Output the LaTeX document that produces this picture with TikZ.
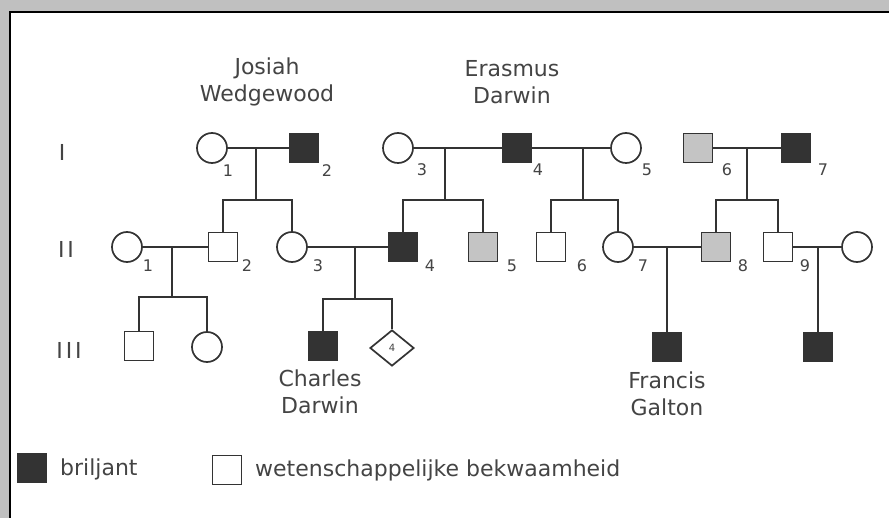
\documentclass[tikz,border=0pt]{standalone}
\usepackage{fontspec}
\setmainfont{DejaVu Sans}
\usetikzlibrary{shapes.geometric}
\definecolor{ink}{HTML}{333333}
\definecolor{txtc}{HTML}{444444}
\definecolor{framec}{HTML}{C0C0C0}
\definecolor{shadec}{HTML}{C4C4C4}
\tikzset{
  person/.style={draw=ink, line width=1.7pt, inner sep=0pt},
  fem/.style={person, circle, minimum size=30pt},
  mal/.style={person, rectangle, minimum size=29pt},
  brill/.style={fill=ink},
  wet/.style={fill=shadec},
  link/.style={draw=ink, line width=2pt},
  numtxt/.style={text=txtc, font=\fontsize{16}{16}\selectfont, inner sep=0pt},
  nametxt/.style={text=txtc, font=\fontsize{22}{27}\selectfont, align=center, inner sep=0pt},
  gentxt/.style={text=txtc, font=\fontsize{22}{22}\selectfont, inner sep=0pt},
}
\begin{document}
\begin{tikzpicture}[x=1pt,y=-1pt]
\useasboundingbox (0,0) rectangle (889,518);
\fill[framec] (0,0) rectangle (889,518);
\fill[white] (10,12) rectangle (889,518);
\draw[black, line width=2.5pt] (10,518) -- (10,12) -- (889,12);

% generation labels
\node[gentxt] (gI) at (62,152) {I};
\node[gentxt] (gII) at (66,249) {I\kern3pt I};
\node[gentxt] (gIII) at (69,350) {I\kern3pt I\kern3pt I};

% names
\node[nametxt] (nJW) at (267,82) {Josiah\\Wedgewood};
\node[nametxt] (nED) at (512,82) {Erasmus\\Darwin};
\node[nametxt] (nCD) at (320,392) {Charles\\Darwin};
\node[nametxt] (nFG) at (667,394) {Francis\\Galton};

% generation I
\node[fem] (I1) at (212,148) {};
\node[mal,brill] (I2) at (304,148) {};
\node[fem] (I3) at (398,148) {};
\node[mal,brill] (I4) at (517,148) {};
\node[fem] (I5) at (626,148) {};
\node[mal,wet] (I6) at (698,148) {};
\node[mal,brill] (I7) at (796,148) {};

% generation II
\node[fem] (II1) at (127,247) {};
\node[mal] (II2) at (223,247) {};
\node[fem] (II3) at (292,247) {};
\node[mal,brill] (II4) at (403,247) {};
\node[mal,wet] (II5) at (483,247) {};
\node[mal] (II6) at (551,247) {};
\node[fem] (II7) at (618,247) {};
\node[mal,wet] (II8) at (716,247) {};
\node[mal] (II9) at (778,247) {};
\node[fem] (II10) at (857,247) {};

% generation III
\node[mal] (III1) at (139,346) {};
\node[fem] (III2) at (207,347) {};
\node[mal,brill] (III3) at (323,346) {};
\node[person, diamond, minimum width=44pt, minimum height=36pt, font=\fontsize{10}{10}\selectfont, text=txtc] (III4) at (392,348) {4};
\node[mal,brill] (III5) at (667,347) {};
\node[mal,brill] (III6) at (818,347) {};

% numbers
\node[numtxt] (l1) at (228,171) {1};
\node[numtxt] (l2) at (327,171) {2};
\node[numtxt] (l3) at (422,170) {3};
\node[numtxt] (l4) at (538,170) {4};
\node[numtxt] (l5) at (647,170) {5};
\node[numtxt] (l6) at (727,170) {6};
\node[numtxt] (l7) at (823,170) {7};
\node[numtxt] (k1) at (148,266) {1};
\node[numtxt] (k2) at (247,266) {2};
\node[numtxt] (k3) at (318,266) {3};
\node[numtxt] (k4) at (430,266) {4};
\node[numtxt] (k5) at (512,266) {5};
\node[numtxt] (k6) at (582,266) {6};
\node[numtxt] (k7) at (643,266) {7};
\node[numtxt] (k8) at (743,266) {8};
\node[numtxt] (k9) at (805,266) {9};

% couple lines
\draw[link] (I1) -- (I2);
\draw[link] (I3) -- (I4);
\draw[link] (I4) -- (I5);
\draw[link] (I6) -- (I7);
\draw[link] (II1) -- (II2);
\draw[link] (II3) -- (II4);
\draw[link] (II7) -- (II8);
\draw[link] (II9) -- (II10);

% descent
\coordinate (m12) at (256,148);  \coordinate (s12) at (256,200);
\coordinate (m34) at (445,148);  \coordinate (s34) at (445,200);
\coordinate (m45) at (583,148);  \coordinate (s45) at (583,200);
\coordinate (m67) at (747,148);  \coordinate (s67) at (747,200);
\coordinate (mA) at (172,247);   \coordinate (sA) at (172,297);
\coordinate (mB) at (355,247);   \coordinate (sB) at (355,299);
\coordinate (mC) at (667,247);
\coordinate (mD) at (818,247);

\draw[link] (m12) -- (s12);
\draw[link] (II2.north) |- (s12) -| (II3.north);
\draw[link] (m34) -- (s34);
\draw[link] (II4.north) |- (s34) -| (II5.north);
\draw[link] (m45) -- (s45);
\draw[link] (II6.north) |- (s45) -| (II7.north);
\draw[link] (m67) -- (s67);
\draw[link] (II8.north) |- (s67) -| (II9.north);
\draw[link] (mA) -- (sA);
\draw[link] (III1.north) |- (sA) -| (III2.north);
\draw[link] (mB) -- (sB);
\draw[link] (III3.north) |- (sB) -| (III4.north);
\draw[link] (mC) -- (III5.north);
\draw[link] (mD) -- (III6.north);

% legend
\node[mal,brill] (kb) at (32,468) {};
\node[nametxt, anchor=west] (tb) at (60,469) {briljant};
\node[mal] (kw) at (227,470) {};
\node[nametxt, anchor=west] (tw) at (255,470) {wetenschappelijke bekwaamheid};
\end{tikzpicture}
\end{document}
